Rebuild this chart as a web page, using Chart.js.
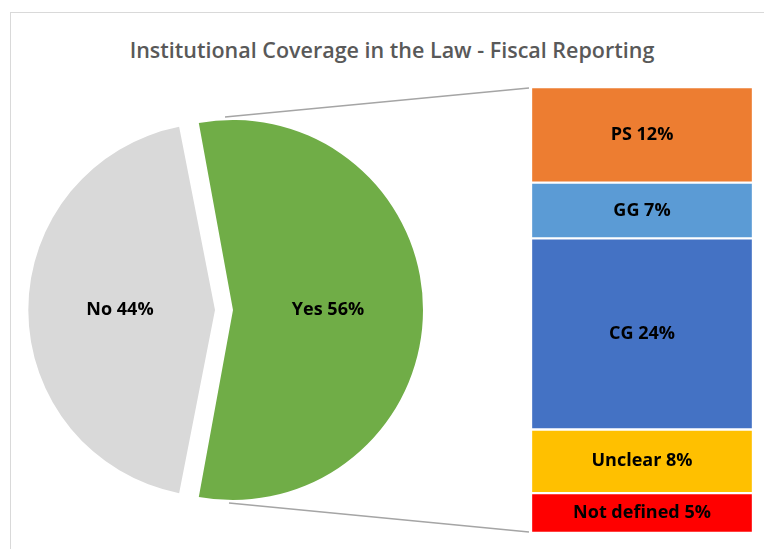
<!DOCTYPE html>
<html>
<head>
<meta charset="utf-8">
<title>Institutional Coverage in the Law - Fiscal Reporting</title>
<script src="https://cdn.jsdelivr.net/npm/chart.js@4.4.1/dist/chart.umd.min.js"></script>
<style>
    html, body { margin: 0; padding: 0; background: #fff; }
    #wrap { position: relative; width: 764px; height: 549px; overflow: hidden; }
    #frame {
        position: absolute; left: 10px; top: 12px; width: 800px; height: 600px;
        border-left: 1px solid #d9d9d9; border-top: 1px solid #d9d9d9;
    }
    #title {
        position: absolute; left: 10px; top: 35px; width: 764px; text-align: center;
        font-family: 'Open Sans', sans-serif; font-weight: 600; font-size: 21.5px; line-height: 30px;
        color: #595959;
    }
    #pieCanvas { position: absolute; left: 0; top: 0; }
    #barCanvas { position: absolute; left: 531px; top: 87px; }
</style>
</head>
<body>
<div id="wrap">
    <div id="frame"></div>
    <div id="title">Institutional Coverage in the Law - Fiscal Reporting</div>
    <canvas id="pieCanvas" width="764" height="549"></canvas>
    <canvas id="barCanvas" width="222" height="446"></canvas>
</div>
<script>
// Pie data (Yes is split into the bar on the right)
const pieLabels = ['Yes', 'No'];
const pieValues = [56, 44];
const pieColors = ['#70ad47', '#d9d9d9'];

// Breakdown of "Yes", listed top to bottom
const barLabels = ['PS', 'GG', 'CG', 'Unclear', 'Not defined'];
const barValues = [12, 7, 24, 8, 5];
const barColors = ['#ed7d31', '#5b9bd5', '#4472c4', '#ffc000', '#ff0000'];

const labelFont = "bold 18px 'Open Sans', sans-serif";

document.addEventListener('DOMContentLoaded', function () {

    // Stacked bar: Chart.js stacks the first dataset at the bottom, so reverse
    const barDatasets = barLabels.map(function (name, i) {
        return {
            label: name,
            data: [barValues[i]],
            backgroundColor: barColors[i],
            borderColor: '#ffffff',
            borderWidth: 1.5,
            borderSkipped: false,
            barPercentage: 1,
            categoryPercentage: 1
        };
    }).reverse();

    const barTotal = barValues.reduce(function (a, b) { return a + b; }, 0);

    // Writes "name value%" in the middle of every segment
    const barLabelPlugin = {
        id: 'barLabels',
        afterDatasetsDraw: function (chart) {
            const ctx = chart.ctx;
            ctx.save();
            ctx.font = labelFont;
            ctx.fillStyle = '#000';
            ctx.textAlign = 'center';
            ctx.textBaseline = 'middle';
            chart.data.datasets.forEach(function (ds, i) {
                const el = chart.getDatasetMeta(i).data[0];
                ctx.fillText(ds.label + ' ' + ds.data[0] + '%', el.x, (el.y + el.base) / 2);
            });
            ctx.restore();
        }
    };

    const barChart = new Chart(document.getElementById('barCanvas'), {
        type: 'bar',
        data: { labels: [''], datasets: barDatasets },
        options: {
            responsive: false,
            animation: false,
            layout: { padding: 0 },
            scales: {
                x: { display: false, stacked: true },
                y: { display: false, stacked: true, min: 0, max: barTotal }
            },
            plugins: { legend: { display: false }, tooltip: { enabled: false } }
        },
        plugins: [barLabelPlugin]
    });

    // How far an exploded arc is pushed out (and grown) along its middle angle
    function arcShift(el) {
        return (el.options.offset || 0) / 4;
    }

    // Slice labels plus the two series lines to the bar
    const pieExtrasPlugin = {
        id: 'pieExtras',
        afterDatasetsDraw: function (chart) {
            const ctx = chart.ctx;
            const meta = chart.getDatasetMeta(0);
            ctx.save();
            ctx.font = labelFont;
            ctx.fillStyle = '#000';
            ctx.textAlign = 'center';
            ctx.textBaseline = 'middle';
            meta.data.forEach(function (el, i) {
                const mid = (el.startAngle + el.endAngle) / 2;
                const d = arcShift(el) + (el.outerRadius + arcShift(el)) * 0.5;
                ctx.fillText(pieLabels[i] + ' ' + pieValues[i] + '%',
                    el.x + Math.cos(mid) * d, el.y + Math.sin(mid) * d);
            });

            // Series lines from the "Yes" slice to the corners of the bar
            const yes = meta.data[0];
            const cx = yes.x + arcShift(yes);
            const r = yes.outerRadius + arcShift(yes);
            const barBox = barChart.canvas;
            const left = barBox.offsetLeft;
            const topEl = barChart.getDatasetMeta(barDatasets.length - 1).data[0];
            const botEl = barChart.getDatasetMeta(0).data[0];
            const x1 = left + topEl.x - topEl.width / 2 - 2;
            ctx.strokeStyle = '#a5a5a5';
            ctx.lineWidth = 1.5;
            ctx.beginPath();
            ctx.moveTo(cx - 8, yes.y - r - 3);
            ctx.lineTo(x1, barBox.offsetTop + topEl.y + 1);
            ctx.moveTo(cx - 4, yes.y + r + 3);
            ctx.lineTo(x1, barBox.offsetTop + botEl.base - 1);
            ctx.stroke();
            ctx.restore();
        }
    };

    // Rotate so that "Yes" sits centred on the right side
    const pieTotal = pieValues.reduce(function (a, b) { return a + b; }, 0);
    const rotation = 90 - (pieValues[0] / pieTotal) * 180;

    new Chart(document.getElementById('pieCanvas'), {
        type: 'pie',
        data: {
            labels: pieLabels,
            datasets: [{
                data: pieValues,
                backgroundColor: pieColors,
                borderWidth: 0,
                offset: 36,
                hoverOffset: 0
            }]
        },
        options: {
            responsive: false,
            animation: false,
            rotation: rotation,
            layout: { padding: { left: 25, right: 341, top: 111, bottom: 40 } },
            plugins: { legend: { display: false }, tooltip: { enabled: false } }
        },
        plugins: [pieExtrasPlugin]
    });
});
</script>
</body>
</html>
